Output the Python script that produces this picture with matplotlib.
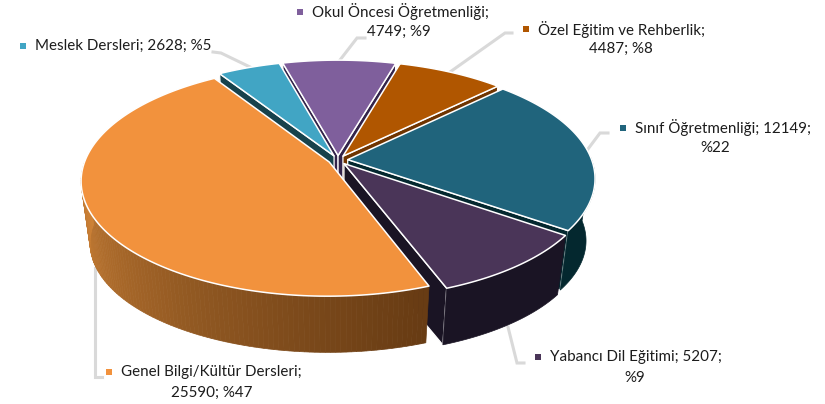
import matplotlib
matplotlib.use('Agg')
import matplotlib.pyplot as plt
import numpy as np

# clockwise, first slice starts at START degrees from the top
CATEGORIES = ['Sınıf Öğretmenliği', 'Yabancı Dil Eğitimi', 'Genel Bilgi/Kültür Dersleri',
              'Meslek Dersleri', 'Okul Öncesi Öğretmenliği', 'Özel Eğitim ve Rehberlik']
VALUES = [12149, 5207, 25590, 2628, 4749, 4487]
PERCENTS = [22, 9, 47, 5, 9, 8]
TOP_COLORS = ['#20647C', '#4A3558', '#F2923D', '#41A5C4', '#7F5F9C', '#B05600']
WALL_COLORS = ['#04282F', '#1A1424', '#8A5522', '#17424C', '#33234A', '#6F3400']
DRAW_ORDER = [4, 5, 3, 0, 1, 2]

START = 45.4
CX, CY = 338, 160
RX, RY = 244, 112
PERSP = 0.16
EXPLODE = 0.04
SHRINK_X, SHRINK_Y, DEPTH = 0.965, 0.95, 63
GREY = '#D9D9D9'
TEXT = '#1C1C1C'
FONT = 'Lato'
LABEL_SIZE = 10.9
RIM_LIGHT = np.array([208, 132, 56])
RIM_DARK = np.array([104, 60, 20])


def project(u, v, bottom=False):
    s = 1 / (1 - PERSP * v)
    x = RX * u * s
    y = RY * v * s
    if bottom:
        return CX + x * SHRINK_X, CY + y * SHRINK_Y + DEPTH
    return CX + x, CY + y


def disc(a, r, mid):
    a, mid = np.radians(a), np.radians(mid)
    return r * np.sin(a) + EXPLODE * np.sin(mid), -r * np.cos(a) - EXPLODE * np.cos(mid)


def draw_radial_wall(ax, a, mid, color):
    u0, v0 = disc(a, 0, mid)
    u1, v1 = disc(a, 1, mid)
    xs = [project(u0, v0)[0], project(u1, v1)[0], project(u1, v1, True)[0], project(u0, v0, True)[0]]
    ys = [project(u0, v0)[1], project(u1, v1)[1], project(u1, v1, True)[1], project(u0, v0, True)[1]]
    ax.fill(xs, ys, facecolor=color, edgecolor='white', linewidth=0.9, joinstyle='round', zorder=3)


def draw_rim(ax, angles, mid, color):
    u, v = disc(angles, 1, mid)
    xt, yt = project(u, v)
    xb, yb = project(u, v, True)
    ax.fill(np.r_[xt, xb[::-1]], np.r_[yt, yb[::-1]], facecolor=color, edgecolor=color, linewidth=0.5, zorder=3)


def draw_slice(ax, a0, a1, top, wall, gradient=False):
    mid = (a0 + a1) / 2
    if np.sin(np.radians(a0)) < 0:
        draw_radial_wall(ax, a0, mid, wall)
    if np.sin(np.radians(a1)) > 0:
        draw_radial_wall(ax, a1, mid, wall)

    # outer rim, only the part that faces the viewer
    angles = np.linspace(a0, a1, 160)
    front = angles[-np.cos(np.radians(angles)) > -0.02]
    if len(front) > 1:
        if gradient:
            # orange rim runs dark on the right, light on the left
            for i in range(len(front) - 1):
                t = (front[i] - front[0]) / (front[-1] - front[0])
                c = RIM_DARK + (RIM_LIGHT - RIM_DARK) * t ** 1.1
                c = '#%02X%02X%02X' % tuple(int(k) for k in c)
                draw_rim(ax, front[i:i + 2], mid, c)
        else:
            draw_rim(ax, front, mid, wall)

    u, v = disc(angles, 1, mid)
    xt, yt = project(u, v)
    x0, y0 = project(*disc(a0, 0, mid))
    ax.fill(np.r_[x0, xt], np.r_[y0, yt], facecolor=top, edgecolor='white', linewidth=1.1,
            joinstyle='round', zorder=3)


def draw_label(ax, x, y, dy, line1, line2, x2, color):
    ax.plot([x - 12.5], [y], marker='s', ms=4.6, color=color, zorder=6, mew=0)
    ax.text(x, y, line1, family=FONT, fontsize=LABEL_SIZE, color=TEXT, va='center', ha='left', zorder=6)
    ax.text(x2, y + dy, line2, family=FONT, fontsize=LABEL_SIZE, color=TEXT, va='center', ha='center', zorder=6)


fig = plt.figure(figsize=(8.25, 4.04), dpi=100)
ax = fig.add_axes([0, 0, 1, 1])
ax.set_xlim(0, 825)
ax.set_ylim(404, 0)
ax.axis('off')

leaders = [
    ([213, 221, 250], [52, 53, 67]),
    ([365, 357, 340], [38, 38, 60]),
    ([512, 505, 450], [33, 33, 72]),
    ([608, 600, 585], [133, 133, 153]),
    ([508, 517, 524], [327, 363, 363]),
    ([95, 95, 102], [268, 377, 377]),
]
for xs, ys in leaders:
    ax.plot(xs, ys, color=GREY, lw=2.2, solid_joinstyle='miter', zorder=1)

shares = np.array(VALUES) / sum(VALUES) * 360
edges = START + np.r_[0, np.cumsum(shares)]
for i in DRAW_ORDER:
    draw_slice(ax, edges[i], edges[i + 1], TOP_COLORS[i], WALL_COLORS[i], gradient=i == 2)

draw_label(ax, 35, 46, 0, f'{CATEGORIES[3]}; {VALUES[3]}; %{PERCENTS[3]}', '', 100, TOP_COLORS[3])
draw_label(ax, 312, 12, 20, f'{CATEGORIES[4]};', f'{VALUES[4]}; %{PERCENTS[4]}', 399, TOP_COLORS[4])
draw_label(ax, 538, 29, 20, f'{CATEGORIES[5]};', f'{VALUES[5]}; %{PERCENTS[5]}', 621, TOP_COLORS[5])
draw_label(ax, 635, 128, 20, f'{CATEGORIES[0]}; {VALUES[0]};', f'%{PERCENTS[0]}', 715, TOP_COLORS[0])
draw_label(ax, 550, 357, 21, f'{CATEGORIES[1]}; {VALUES[1]};', f'%{PERCENTS[1]}', 635, TOP_COLORS[1])
draw_label(ax, 121, 372, 21, f'{CATEGORIES[2]};', f'{VALUES[2]}; %{PERCENTS[2]}', 212, TOP_COLORS[2])

fig.savefig('out.png', dpi=100)
